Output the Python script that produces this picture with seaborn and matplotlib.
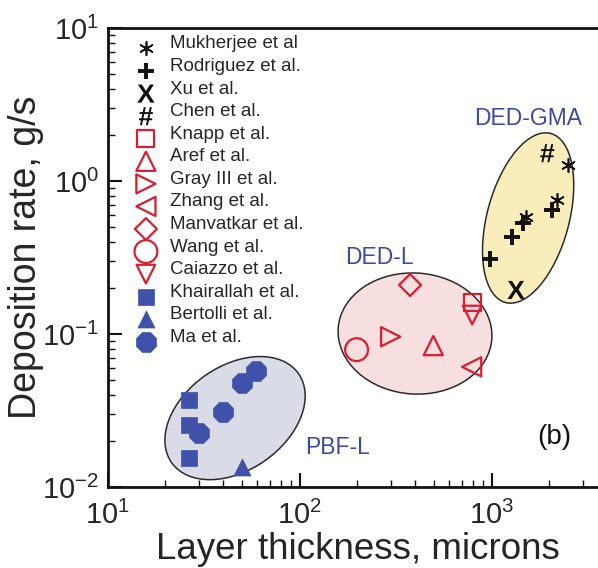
import numpy as np
import pandas as pd
import matplotlib
matplotlib.use("Agg")
import matplotlib.pyplot as plt
import seaborn as sns
from matplotlib.patches import Ellipse
from matplotlib.transforms import ScaledTranslation
from matplotlib.ticker import LogLocator, NullFormatter

# ---------------- data ----------------
studies = ["Mukherjee et al", "Rodriguez et al.", "Xu et al.", "Chen et al.",
           "Knapp et al.", "Aref et al.", "Gray III et al.", "Zhang et al.",
           "Manvatkar et al.", "Wang et al.", "Caiazzo et al.",
           "Khairallah et al.", "Bertolli et al.", "Ma et al."]

mukherjee_x = [2506, 2198, 1507]
mukherjee_y = [1.27, 0.75, 0.58]
rodriguez_x = [982, 1273, 1462, 2056]
rodriguez_y = [0.31, 0.43, 0.53, 0.645]
xu_x = [1340]
xu_y = [0.194]
chen_x = [1950]
chen_y = [1.52]
knapp_x = [792]
knapp_y = [0.160]
aref_x = [497]
aref_y = [0.084]
gray_x = [298]
gray_y = [0.096]
zhang_x = [787]
zhang_y = [0.061]
manvatkar_x = [376]
manvatkar_y = [0.209]
wang_x = [198]
wang_y = [0.079]
caiazzo_x = [792]
caiazzo_y = [0.133]
khairallah_x = [26.6, 26.6, 26.6]
khairallah_y = [0.037, 0.0254, 0.0154]
bertolli_x = [49.9]
bertolli_y = [0.0136]
ma_x = [30.1, 39.7, 49.9, 59.3]
ma_y = [0.0226, 0.031, 0.048, 0.0575]

xs = [mukherjee_x, rodriguez_x, xu_x, chen_x, knapp_x, aref_x, gray_x, zhang_x,
      manvatkar_x, wang_x, caiazzo_x, khairallah_x, bertolli_x, ma_x]
ys = [mukherjee_y, rodriguez_y, xu_y, chen_y, knapp_y, aref_y, gray_y, zhang_y,
      manvatkar_y, wang_y, caiazzo_y, khairallah_y, bertolli_y, ma_y]

# process-region labels and ellipses (centre in data units)
region_names = ["DED-GMA", "DED-L", "PBF-L"]
region_label_x = [1549, 262, 158.5]
region_label_y = [2.58, 0.314, 0.018]
ell_cx = [1549, 399, 46.1]
ell_cy = [0.573, 0.1007, 0.0282]

df = pd.DataFrame({
    "study": np.concatenate([[s] * len(x) for s, x in zip(studies, xs)]),
    "thickness": np.concatenate(xs),
    "rate": np.concatenate(ys),
})

# ---------------- style ----------------
sns.set_style("ticks")
plt.rcParams["font.family"] = ["Liberation Sans", "DejaVu Sans"]
plt.rcParams["mathtext.fontset"] = "custom"
plt.rcParams["mathtext.rm"] = "Liberation Sans"
plt.rcParams["mathtext.it"] = "Liberation Sans:italic"
plt.rcParams["mathtext.bf"] = "Liberation Sans:bold"

RED = "#d81e32"
BLUE = "#3f51a8"
BLACK = "#111111"
LBLUE = "#3c4ba0"

styles = {
    "Mukherjee et al": dict(marker=(6, 2, 0), s=95, color=BLACK, linewidths=1.2),
    "Rodriguez et al.": dict(marker="+", s=130, color=BLACK, linewidths=2.8),
    "Xu et al.": dict(marker=r"$\mathbf{X}$", s=170, color=BLACK, edgecolor="none", linewidths=0),
    "Chen et al.": dict(marker=r"$\mathbf{\#}$", s=170, color=BLACK, edgecolor="none", linewidths=0),
    "Knapp et al.": dict(marker="s", s=150, color=RED, facecolor="none", edgecolor=RED, linewidths=1.6),
    "Aref et al.": dict(marker="^", s=190, color=RED, facecolor="none", edgecolor=RED, linewidths=1.6),
    "Gray III et al.": dict(marker=">", s=190, color=RED, facecolor="none", edgecolor=RED, linewidths=1.6),
    "Zhang et al.": dict(marker="<", s=190, color=RED, facecolor="none", edgecolor=RED, linewidths=1.6),
    "Manvatkar et al.": dict(marker="D", s=125, color=RED, facecolor="none", edgecolor=RED, linewidths=1.6),
    "Wang et al.": dict(marker="o", s=270, color=RED, facecolor="none", edgecolor=RED, linewidths=1.6),
    "Caiazzo et al.": dict(marker="v", s=180, color=RED, facecolor="none", edgecolor=RED, linewidths=1.6),
    "Khairallah et al.": dict(marker="s", s=140, color=BLUE, edgecolor=BLUE, linewidths=0.5),
    "Bertolli et al.": dict(marker="^", s=150, color=BLUE, edgecolor=BLUE, linewidths=0.5),
    "Ma et al.": dict(marker="8", s=240, color=BLUE, edgecolor=BLUE, linewidths=0.5),
}

fig = plt.figure(figsize=(5.98, 5.68), dpi=100)
ax = fig.add_axes([107.6 / 598, 1 - 487 / 568, 1 - 107.6 / 598, 459 / 568])
ax.set_xscale("log")
ax.set_yscale("log")
ax.set_xlim(10, 10 ** 3.554)
ax.set_ylim(0.01, 10)

# ellipses (drawn in pixel units, centred on data points)
ell_w = [82, 154, 155]
ell_h = [175, 121, 104]
ell_ang = [-15, -4, 35]
ell_fc = ["#f9eebb", "#f7dfdf", "#d9dce7"]
for cx, cy, w, h, a, fc in zip(ell_cx, ell_cy, ell_w, ell_h, ell_ang, ell_fc):
    tr = fig.dpi_scale_trans + ScaledTranslation(cx, cy, ax.transData)
    e = Ellipse((0, 0), w / 100, h / 100, angle=a, transform=tr,
                facecolor=fc, edgecolor="#2b2b2b", linewidth=1.1, zorder=1)
    ax.add_patch(e)

handles = []
for st in studies:
    sub = df[df["study"] == st]
    kw = dict(styles[st])
    sns.scatterplot(data=sub, x="thickness", y="rate", ax=ax, legend=False,
                    zorder=3, label=st, **kw)
    handles.append(ax.collections[-1])

for name, lx, ly in zip(region_names, region_label_x, region_label_y):
    ax.text(lx, ly, name, color=LBLUE, fontsize=16.5, ha="center", va="center", zorder=4)
ax.text(0.91, 0.108, "(b)", transform=ax.transAxes, fontsize=20, ha="center",
        va="center", color="#111111")

leg = ax.legend(handles=handles, labels=studies, loc="upper left",
                bbox_to_anchor=(0.059, 0.984), frameon=False, fontsize=13.5,
                handlelength=1.0, handletextpad=0.78, labelspacing=0.29,
                borderpad=0, borderaxespad=0, scatterpoints=1,
                scatteryoffsets=[0.0])

# axes styling
for side in ["left", "bottom", "top"]:
    ax.spines[side].set_linewidth(2.0)
    ax.spines[side].set_color("#111111")
ax.spines["right"].set_visible(False)
ax.xaxis.set_major_locator(LogLocator(base=10, numticks=10))
ax.yaxis.set_major_locator(LogLocator(base=10, numticks=10))
ax.xaxis.set_minor_locator(LogLocator(base=10, subs=np.arange(2, 10), numticks=20))
ax.yaxis.set_minor_locator(LogLocator(base=10, subs=np.arange(2, 10), numticks=20))
ax.xaxis.set_minor_formatter(NullFormatter())
ax.yaxis.set_minor_formatter(NullFormatter())
ax.tick_params(which="major", direction="in", length=10, width=1.5,
               labelsize=21, top=False, right=False, color="#111111")
ax.tick_params(which="minor", direction="in", length=5, width=1.0,
               top=False, right=False, color="#111111")
ax.tick_params(axis="x", which="major", pad=10)
ax.tick_params(axis="y", which="major", pad=6)

ax.set_xlabel("Layer thickness, microns", fontsize=26.5)
ax.set_ylabel("Deposition rate, g/s", fontsize=27)
ax.xaxis.set_label_coords(0.511, -0.097)
ax.yaxis.set_label_coords(-0.130, 0.5)

fig.savefig("out.png", dpi=100)
